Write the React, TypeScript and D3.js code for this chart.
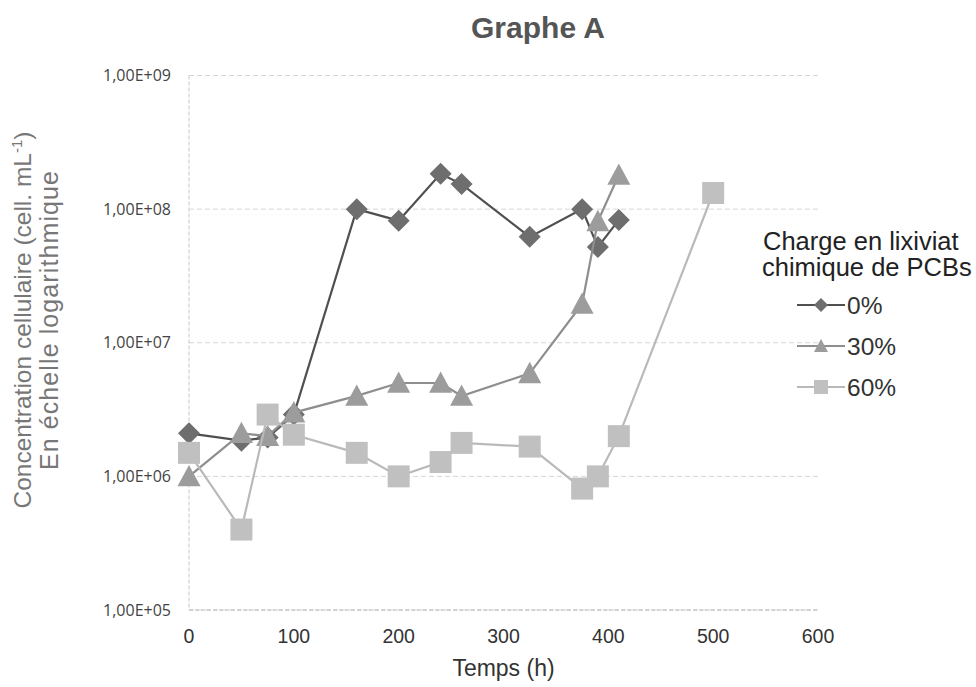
import React from "react";
import * as d3 from "d3";

// temps de prélèvement (h)
const hours = [0, 50, 75, 100, 160, 200, 240, 260, 325, 375, 390, 410];
const hours60 = [0, 50, 75, 100, 160, 200, 240, 260, 325, 375, 390, 410, 500];

// concentration cellulaire (cell. mL-1)
const charge0 = [2.1e6, 1.85e6, 1.95e6, 2.9e6, 1.0e8, 8.2e7, 1.84e8, 1.54e8, 6.2e7, 1.0e8, 5.2e7, 8.3e7];
const charge30 = [1.0e6, 2.1e6, 2.0e6, 3.0e6, 4.0e6, 5.0e6, 5.0e6, 4.0e6, 5.9e6, 1.95e7, 8.1e7, 1.8e8];
const charge60 = [1.5e6, 4.0e5, 2.9e6, 2.05e6, 1.5e6, 1.0e6, 1.28e6, 1.78e6, 1.67e6, 8.1e5, 1.0e6, 2.0e6, 1.32e8];

const seriesLabels = ["0%", "30%", "60%"];
const xTicks = [0, 100, 200, 300, 400, 500, 600];
const yTicks = [1e5, 1e6, 1e7, 1e8, 1e9];
const yTickLabels = ["1,00E+05", "1,00E+06", "1,00E+07", "1,00E+08", "1,00E+09"];

const W = 976;
const H = 687;
const left = 189, right = 818, top = 75.5, bottom = 610;

const x = d3.scaleLinear().domain([0, 600]).range([left, right]);
const y = d3.scaleLog().domain([1e5, 1e9]).range([bottom, top]);

function marker(kind: string, s: number) {
  // s = demi-taille
  if (kind === "diamond") return `M0,${-s}L${s},0L0,${s}L${-s},0Z`;
  if (kind === "triangle") return `M0,${-s}L${s},${s * 0.85}L${-s},${s * 0.85}Z`;
  return `M${-s},${-s}H${s}V${s}H${-s}Z`;
}

const series = [
  { label: seriesLabels[0], xs: hours, ys: charge0, kind: "diamond", line: "#505050", fill: "#6e6e6e", size: 11 },
  { label: seriesLabels[1], xs: hours, ys: charge30, kind: "triangle", line: "#8e8e8e", fill: "#9c9c9c", size: 11.5 },
  { label: seriesLabels[2], xs: hours60, ys: charge60, kind: "square", line: "#b9b9b9", fill: "#c0c0c0", size: 11 },
];

export default function App() {
  const line = d3
    .line<[number, number]>()
    .x((d) => x(d[0]))
    .y((d) => y(d[1]));

  return (
    <svg
      width={W}
      height={H}
      style={{ position: "absolute", left: 0, top: 0, background: "#fff" }}
      fontFamily="'Liberation Sans', Arial, sans-serif"
    >
      <rect width={W} height={H} fill="#fff" />
      <text x={538} y={38} textAnchor="middle" fontSize={30} fontWeight="bold" fill="#555">
        Graphe A
      </text>

      {/* grille */}
      {yTicks.map((t) => (
        <line key={t} x1={left} x2={right} y1={y(t)} y2={y(t)} stroke="#d6d6d6" strokeWidth={1} strokeDasharray="5,3" />
      ))}
      <line x1={left} x2={left} y1={top} y2={bottom} stroke="#c8c8c8" strokeWidth={1} strokeDasharray="4,2" />
      <line x1={left} x2={right} y1={bottom} y2={bottom} stroke="#b8b8b8" strokeWidth={1} strokeDasharray="4,2" />

      {/* graduations */}
      {yTicks.map((t, i) => (
        <text key={t} x={171} y={y(t) + 5.5} textAnchor="end" fontSize={16} fontFamily="'Open Sans', sans-serif" fill="#444">
          {yTickLabels[i]}
        </text>
      ))}
      {xTicks.map((t) => (
        <text key={t} x={x(t)} y={643} textAnchor="middle" fontSize={19.5} fill="#333">
          {t}
        </text>
      ))}
      <text x={(left + right) / 2} y={676} textAnchor="middle" fontSize={23} fill="#333">
        Temps (h)
      </text>

      <g transform="translate(0,320) rotate(-90)" textAnchor="middle" fill="#777">
        <text x={0} y={31} fontSize={24.5}>
          Concentration cellulaire (cell. mL
          <tspan dy={-9} fontSize={15}>-1</tspan>
          <tspan dy={9}>)</tspan>
        </text>
        <text x={0} y={58} fontSize={25} letterSpacing={1.1}>
          En échelle logarithmique
        </text>
      </g>

      {/* séries */}
      {series.map((s) => {
        const pts = s.xs.map((h, i) => [h, s.ys[i]] as [number, number]);
        return (
          <g key={s.label}>
            <path d={line(pts) || ""} fill="none" stroke={s.line} strokeWidth={2.2} />
            {pts.map((p, i) => (
              <path
                key={i}
                d={marker(s.kind, s.size)}
                transform={`translate(${x(p[0])},${y(p[1])})`}
                fill={s.fill}
              />
            ))}
          </g>
        );
      })}

      {/* légende */}
      <g fill="#222">
        <text x={763} y={250} fontSize={25.5}>Charge en lixiviat</text>
        <text x={762} y={276} fontSize={25.5}>chimique de PCBs</text>
        {series.map((s, i) => {
          const cy = 305 + i * 41;
          return (
            <g key={s.label}>
              <line x1={797} x2={845} y1={cy} y2={cy} stroke={s.line} strokeWidth={2} />
              <path d={marker(s.kind, 7)} transform={`translate(821,${cy})`} fill={s.fill} />
              <text x={847} y={cy + 9} fontSize={24.5} fill="#333">
                {s.label}
              </text>
            </g>
          );
        })}
      </g>
    </svg>
  );
}
